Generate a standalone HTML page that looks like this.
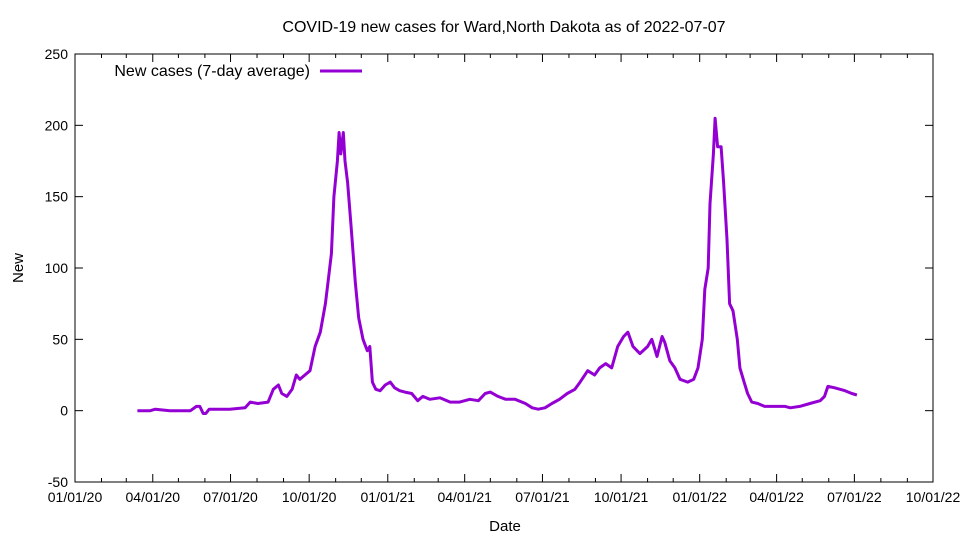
<!DOCTYPE html>
<html><head><meta charset="utf-8"><style>
html,body{margin:0;padding:0;background:#fff}
svg{display:block;font-family:"Liberation Sans",sans-serif}
</style></head><body>
<svg id="chart" width="960" height="540" viewBox="0 0 960 540" xmlns="http://www.w3.org/2000/svg">
<rect width="960" height="540" fill="#fff"/>
<text x="504" y="32" font-size="16" text-anchor="middle">COVID-19 new cases for Ward,North Dakota as of 2022-07-07</text>
<text x="23" y="268" font-size="15" text-anchor="middle" transform="rotate(-90 23 268)">New</text>
<text x="505" y="531" font-size="15" text-anchor="middle">Date</text>
<g id="axes"></g>
<g id="series"></g>
<g>
<text x="310" y="76" font-size="16" text-anchor="end">New cases (7-day average)</text>
<line x1="320" y1="71" x2="362" y2="71" stroke="#9400d3" stroke-width="3"/>
</g>
</svg>
<script>
// days since 2020-01-01
const days=[73,88,94,111,135,142,146,150,153,157,181,199,205,214,226,232,238,242,248,254,259,263,269,275,281,287,293,296,300,303,307,309,311,314,316,319,323,328,332,337,342,345,348,352,357,363,369,374,380,386,394,401,407,415,427,439,450,462,472,480,486,495,504,515,527,535,542,550,558,567,576,585,591,600,608,614,621,628,635,642,647,653,661,670,675,681,687,690,696,702,708,717,724,729,734,737,741,743,747,749,752,756,759,763,766,770,775,778,783,787,792,799,807,819,831,837,848,860,872,877,881,889,901,909,915];
const cases=[0,0,1,0,0,3,3,-2,-2,1,1,2,6,5,6,15,18,12,10,15,25,22,25,28,45,55,75,90,110,150,175,195,180,195,175,160,130,90,65,50,42,45,20,15,14,18,20,16,14,13,12,7,10,8,9,6,6,8,7,12,13,10,8,8,5,2,1,2,5,8,12,15,20,28,25,30,33,30,45,52,55,45,40,45,50,38,52,48,35,30,22,20,22,30,50,85,100,145,180,205,185,185,160,120,75,70,50,30,20,12,6,5,3,3,3,2,3,5,7,10,17,16,14,12,11];
const yTicks=[-50,0,50,100,150,200,250];
const xTickLabels=["01/01/20","04/01/20","07/01/20","10/01/20","01/01/21","04/01/21","07/01/21","10/01/21","01/01/22","04/01/22","07/01/22","10/01/22"];
const L=75,R=933,T=54,B=482,NS="http://www.w3.org/2000/svg";
const xDay=d=>L+(R-L)*d/1004;
const y=v=>B-(B-T)*(v+50)/300;
function el(t,a,p){const e=document.createElementNS(NS,t);for(const k in a)e.setAttribute(k,a[k]);p.appendChild(e);return e;}
const ax=document.getElementById('axes');
const frame=el('rect',{x:L,y:T,width:R-L,height:B-T,fill:'none',stroke:'#000','stroke-width':1},ax);


yTicks.forEach(v=>{
 const yy=y(v);
 el('line',{x1:L,y1:yy,x2:L+8,y2:yy,stroke:'#000'},ax);
 el('line',{x1:R,y1:yy,x2:R-8,y2:yy,stroke:'#000'},ax);
 const t=el('text',{x:L-7,y:yy+5,'font-size':14,'text-anchor':'end'},ax);
 t.textContent=v;
 
 
});
for(let m=0;m<=33;m++){
 const dt=new Date(Date.UTC(2020,m,1));
 const d=Math.round((dt-Date.UTC(2020,0,1))/86400000);
 const xx=xDay(d),len=(m%3===0)?8:4;
 el('line',{x1:xx,y1:B,x2:xx,y2:B-len,stroke:'#000'},ax);
 el('line',{x1:xx,y1:T,x2:xx,y2:T+len,stroke:'#000'},ax);
 if(m%3===0){
  const t=el('text',{x:xx,y:B+20,'font-size':14,'text-anchor':'middle'},ax);
  t.textContent=xTickLabels[m/3];
  
  
 }
}
const pts=days.map((d,i)=>xDay(d).toFixed(1)+','+y(cases[i]).toFixed(1)).join(' ');
const line=el('polyline',{points:pts,fill:'none',stroke:'#9400d3','stroke-width':3,'stroke-linejoin':'round'},document.getElementById('series'));


</script>
</body></html>
